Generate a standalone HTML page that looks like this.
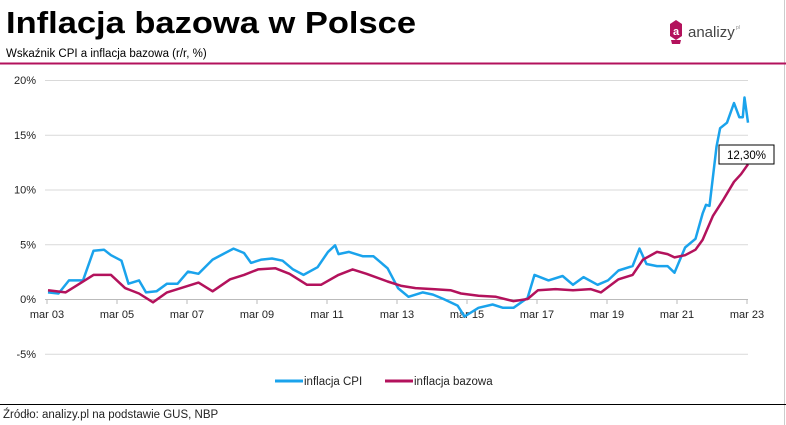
<!DOCTYPE html>
<html><head><meta charset="utf-8"><style>
body{margin:0;background:#fff;}
svg{display:block;font-family:"Liberation Sans",sans-serif;}
</style></head><body>
<svg id="s" width="786" height="425" viewBox="0 0 786 425">
<rect x="0" y="0" width="786" height="425" fill="#fff"/>
<line x1="784.5" y1="0" x2="784.5" y2="425" stroke="#ccc"/>
<text x="6" y="33" font-size="31" font-weight="bold" fill="#000" textLength="410" lengthAdjust="spacingAndGlyphs">Inflacja bazowa w Polsce</text>
<text x="6" y="57" font-size="11.5" fill="#000">Wskaźnik CPI a inflacja bazowa (r/r, %)</text>
<line x1="0" y1="63.5" x2="786" y2="63.5" stroke="#b3125c" stroke-width="2"/>
<path d="M670 24 L676 20 L682 24 L682 36 L676 40 L670 36 Z" fill="#b3125c"/>
<path d="M671 40 L681 40 L680 44 L672 44 Z" fill="#b3125c"/>
<text x="676" y="35" font-size="11" fill="#fff" text-anchor="middle" font-weight="bold">a</text>
<text x="688" y="37" font-size="15" fill="#444">analizy</text>
<text x="736" y="29" font-size="5" fill="#888">pl</text>
<g id="grid" stroke="#d9d9d9" stroke-width="1"></g>
<g id="ylab" font-size="11" fill="#222" text-anchor="end"></g>
<g id="xlab" font-size="11" fill="#222" text-anchor="middle"></g>
<path id="cpi" fill="none" stroke="#1aa3ec" stroke-width="2.5" stroke-linejoin="round"/>
<path id="core" fill="none" stroke="#b3125c" stroke-width="2.5" stroke-linejoin="round"/>
<rect x="719" y="145" width="55" height="19" fill="#fff" stroke="#000" stroke-width="1"/>
<text x="746.5" y="159" font-size="11.5" text-anchor="middle" fill="#000">12,30%</text>
<line x1="275" y1="381" x2="303" y2="381" stroke="#1aa3ec" stroke-width="3"/>
<text x="304" y="385" font-size="11.5" fill="#222">inflacja CPI</text>
<line x1="385" y1="381" x2="413" y2="381" stroke="#b3125c" stroke-width="3"/>
<text x="414" y="385" font-size="11.5" fill="#222">inflacja bazowa</text>
<line x1="0" y1="404.5" x2="786" y2="404.5" stroke="#000" stroke-width="1"/>
<text x="3" y="418" font-size="11.5" fill="#222">Źródło: analizy.pl na podstawie GUS, NBP</text>
</svg>
<script>
var NS="http://www.w3.org/2000/svg";
function X(t){return 47+(t-2003.17)*35;}
function Y(v){return 299-v*10.95;}
var g=document.getElementById('grid'),yl=document.getElementById('ylab'),xl=document.getElementById('xlab');
[20,15,10,5,-5].forEach(function(v){var l=document.createElementNS(NS,'line');l.setAttribute('x1',45);l.setAttribute('x2',748);l.setAttribute('y1',Y(v)+.5);l.setAttribute('y2',Y(v)+.5);g.appendChild(l);
var t=document.createElementNS(NS,'text');t.setAttribute('x',36);t.setAttribute('y',Y(v)+4);t.textContent=v+'%';yl.appendChild(t);});
var t0=document.createElementNS(NS,'text');t0.setAttribute('x',36);t0.setAttribute('y',Y(0)+4);t0.textContent='0%';yl.appendChild(t0);
var ax=document.createElementNS(NS,'line');ax.setAttribute('x1',45);ax.setAttribute('x2',748);ax.setAttribute('y1',Y(0)+.5);ax.setAttribute('y2',Y(0)+.5);ax.setAttribute('stroke','#bbb');g.appendChild(ax);
for(var y=2003;y<=2023;y+=2){var x=X(y+0.17);var l=document.createElementNS(NS,'line');l.setAttribute('x1',x);l.setAttribute('x2',x);l.setAttribute('y1',Y(0));l.setAttribute('y2',Y(0)+5);l.setAttribute('stroke','#bbb');g.appendChild(l);
var t=document.createElementNS(NS,'text');t.setAttribute('x',x);t.setAttribute('y',318);t.textContent='mar '+String(y).slice(2);xl.appendChild(t);}
var cpi=[2003.2,0.6,2003.5,0.5,2003.8,1.7,2004.2,1.7,2004.5,4.4,2004.8,4.5,2005.0,4.0,2005.3,3.5,2005.5,1.4,2005.8,1.7,2006.0,0.6,2006.3,0.7,2006.6,1.4,2006.9,1.4,2007.2,2.5,2007.5,2.3,2007.9,3.6,2008.2,4.1,2008.5,4.6,2008.8,4.2,2009.0,3.3,2009.3,3.6,2009.6,3.7,2009.9,3.5,2010.2,2.7,2010.5,2.2,2010.9,2.9,2011.2,4.3,2011.4,4.9,2011.5,4.1,2011.8,4.3,2012.2,3.9,2012.5,3.9,2012.9,2.8,2013.2,1.0,2013.5,0.2,2013.9,0.6,2014.2,0.4,2014.5,0,2014.9,-0.6,2015.1,-1.6,2015.5,-0.8,2015.9,-0.5,2016.2,-0.8,2016.5,-0.8,2016.9,0.1,2017.1,2.2,2017.5,1.7,2017.9,2.1,2018.2,1.3,2018.5,2.0,2018.9,1.3,2019.2,1.7,2019.5,2.6,2019.9,3.0,2020.1,4.6,2020.3,3.2,2020.6,3.0,2020.9,3.0,2021.1,2.4,2021.4,4.7,2021.7,5.5,2021.9,7.8,2022.0,8.6,2022.1,8.5,2022.3,13.9,2022.4,15.6,2022.6,16.1,2022.8,17.9,2022.95,16.6,2023.05,16.6,2023.1,18.4,2023.2,16.1];
var core=[2003.2,0.8,2003.7,0.6,2004.0,1.2,2004.5,2.2,2005.0,2.2,2005.4,1.0,2005.8,0.5,2006.2,-0.3,2006.6,0.6,2007.0,1.0,2007.5,1.5,2007.9,0.7,2008.4,1.8,2008.8,2.2,2009.2,2.7,2009.7,2.8,2010.1,2.3,2010.6,1.3,2011.0,1.3,2011.5,2.2,2011.9,2.7,2012.3,2.3,2012.9,1.6,2013.3,1.2,2013.7,1.0,2014.2,0.9,2014.7,0.8,2015.0,0.5,2015.5,0.3,2016.0,0.2,2016.5,-0.2,2016.9,0.0,2017.2,0.8,2017.7,0.9,2018.2,0.8,2018.7,0.9,2019.0,0.6,2019.5,1.8,2019.9,2.2,2020.2,3.6,2020.6,4.3,2020.9,4.1,2021.1,3.8,2021.4,4.0,2021.7,4.5,2021.9,5.4,2022.2,7.6,2022.5,9.1,2022.8,10.7,2023.0,11.4,2023.2,12.3];
function P(a){var d='';for(var i=0;i<a.length;i+=2)d+=(i?'L':'M')+X(a[i]).toFixed(1)+' '+Y(a[i+1]).toFixed(1);return d;}
document.getElementById('cpi').setAttribute('d',P(cpi));
document.getElementById('core').setAttribute('d',P(core));
</script>
</body></html>
